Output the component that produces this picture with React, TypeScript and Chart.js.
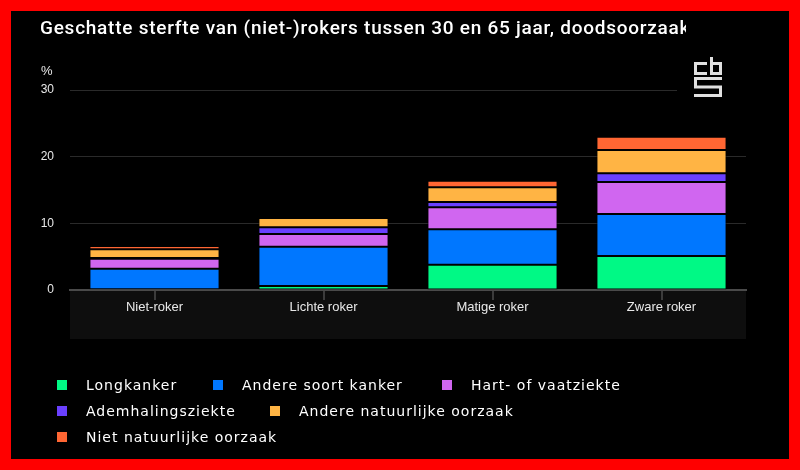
import React, { useEffect, useRef } from "react";
import { Chart, registerables } from "chart.js";

Chart.register(...registerables);

const categories = ["Niet-roker", "Lichte roker", "Matige roker", "Zware roker"];
const seriesLabels = [
  "Longkanker",
  "Andere soort kanker",
  "Hart- of vaatziekte",
  "Ademhalingsziekte",
  "Andere natuurlijke oorzaak",
  "Niet natuurlijke oorzaak",
];
const longkanker = [0.1, 0.6, 3.8, 5.1];
const andereKanker = [3.1, 5.9, 5.3, 6.3];
const hartVaat = [1.5, 1.9, 3.3, 4.8];
const ademhaling = [0.1, 1.0, 0.8, 1.3];
const andereNatuurlijk = [1.3, 1.4, 2.2, 3.5];
const nietNatuurlijk = [0.5, 0.2, 1.0, 2.0];
const seriesValues = [longkanker, andereKanker, hartVaat, ademhaling, andereNatuurlijk, nietNatuurlijk];
const seriesColors = ["#00f985", "#0077ff", "#d066f0", "#6a40ff", "#ffb444", "#ff6633"];
const yMax = 30;
const yStep = 10;

const title = "Geschatte sterfte van (niet-)rokers tussen 30 en 65 jaar, doodsoorzaak";
const unitLabel = "%";

// legend layout: rows of item indices and their left positions
const legendRows = [
  { top: 377, items: [0, 1, 2], lefts: [57, 213, 442] },
  { top: 403, items: [3, 4], lefts: [57, 270] },
  { top: 429, items: [5], lefts: [57] },
];

const bandPlugin = {
  id: "band",
  beforeDraw(chart: any) {
    const { ctx, chartArea } = chart;
    ctx.save();
    ctx.fillStyle = "#0e0e0e";
    ctx.fillRect(chartArea.left, chartArea.bottom, chartArea.right - chartArea.left, 49);
    ctx.restore();
  },
};

const logoPlugin = {
  id: "logo",
  afterDraw(chart: any) {
    const { ctx } = chart;
    ctx.save();
    ctx.fillStyle = "#000";
    ctx.fillRect(677, 50, 70, 52);
    ctx.strokeStyle = "#e0e0e0";
    ctx.lineWidth = 3;
    ctx.lineJoin = "miter";
    ctx.beginPath();
    // c
    ctx.moveTo(707, 63.5);
    ctx.lineTo(695.5, 63.5);
    ctx.lineTo(695.5, 73.5);
    ctx.lineTo(707, 73.5);
    // b
    ctx.moveTo(711.5, 57);
    ctx.lineTo(711.5, 73.5);
    ctx.lineTo(720.5, 73.5);
    ctx.lineTo(720.5, 63.5);
    ctx.lineTo(711.5, 63.5);
    // S
    ctx.moveTo(722, 78.5);
    ctx.lineTo(695.5, 78.5);
    ctx.lineTo(695.5, 87);
    ctx.lineTo(720.5, 87);
    ctx.lineTo(720.5, 95.5);
    ctx.lineTo(694, 95.5);
    ctx.stroke();
    ctx.restore();
  },
};

export default function App() {
  const canvasRef = useRef<HTMLCanvasElement | null>(null);

  useEffect(() => {
    if (!canvasRef.current) return;
    const chart = new Chart(canvasRef.current, {
      type: "bar",
      data: {
        labels: categories,
        datasets: seriesLabels.map((label, i) => ({
          label,
          data: seriesValues[i],
          backgroundColor: seriesColors[i],
          borderColor: "rgba(0,0,0,0.85)",
          borderWidth: 1,
          borderSkipped: false,
          categoryPercentage: 1,
          barPercentage: 0.77,
        })),
      },
      options: {
        responsive: false,
        animation: false,
        layout: { padding: { left: 40, right: 54, top: 90, bottom: 130 } },
        plugins: {
          legend: { display: false },
          tooltip: { enabled: false },
          title: { display: false },
        },
        scales: {
          x: {
            stacked: true,
            afterFit: (axis: any) => {
              axis.height = 50;
            },
            grid: {
              offset: false,
              drawOnChartArea: false,
              drawTicks: true,
              tickLength: 10,
              color: "#3c3c3c",
              lineWidth: 2,
            },
            border: { display: true, color: "#4a4a4a", width: 2 },
            ticks: {
              color: "#e8e8e8",
              padding: 0,
              font: { family: "'Liberation Sans', Arial, sans-serif", size: 13 },
            },
          },
          y: {
            stacked: true,
            min: 0,
            max: yMax,
            afterFit: (axis: any) => {
              axis.width = 30;
            },
            grid: { color: "#2a2a2a", lineWidth: 1, drawTicks: false },
            border: { display: false },
            ticks: {
              stepSize: yStep,
              color: "#e8e8e8",
              padding: 16,
              font: { family: "'Liberation Sans', Arial, sans-serif", size: 12 },
            },
          },
        },
      },
      plugins: [bandPlugin, logoPlugin],
    });
    return () => chart.destroy();
  }, []);

  return (
    <div style={{ position: "fixed", left: 0, top: 0, width: 800, height: 470, background: "#ff0000", overflow: "hidden" }}>
      <div style={{ position: "absolute", left: 11, top: 11, width: 778, height: 448, background: "#000" }} />
      <canvas ref={canvasRef} width={800} height={470} style={{ position: "absolute", left: 0, top: 0, width: 800, height: 470 }} />
      <div
        style={{
          position: "absolute",
          left: 40,
          top: 17,
          width: 646,
          overflow: "hidden",
          whiteSpace: "nowrap",
          color: "#fff",
          fontFamily: "Roboto, sans-serif",
          fontWeight: 500,
          fontSize: 19,
          letterSpacing: "0.75px",
          lineHeight: "22px",
        }}
      >
        {title}
      </div>
      <div
        style={{
          position: "absolute",
          left: 41,
          top: 63,
          color: "#e8e8e8",
          fontFamily: "'Liberation Sans', Arial, sans-serif",
          fontSize: 13,
          lineHeight: "15px",
        }}
      >
        {unitLabel}
      </div>
      {legendRows.map((row, r) =>
        row.items.map((idx, k) => (
          <div
            key={`${r}-${k}`}
            style={{
              position: "absolute",
              left: row.lefts[k],
              top: row.top,
              height: 16,
              display: "flex",
              alignItems: "center",
              whiteSpace: "nowrap",
              color: "#fff",
              fontFamily: "'DejaVu Sans', sans-serif",
              fontSize: 14,
              letterSpacing: "1px",
              lineHeight: "16px",
            }}
          >
            <span style={{ display: "inline-block", width: 10, height: 10, background: seriesColors[idx], marginRight: 19 }} />
            <span>{seriesLabels[idx]}</span>
          </div>
        ))
      )}
    </div>
  );
}
